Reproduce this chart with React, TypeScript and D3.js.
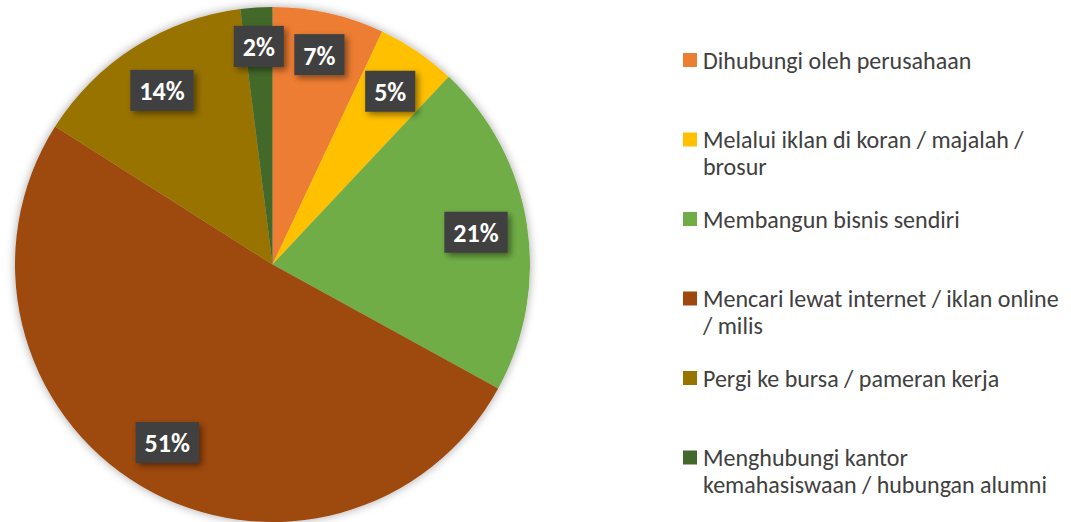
import React, { useRef, useEffect } from "react";
import * as d3 from "d3";

// Categories and shares (percent), clockwise from 12 o'clock
const categories = [
  "Dihubungi oleh perusahaan",
  "Melalui iklan di koran / majalah /\nbrosur",
  "Membangun bisnis sendiri",
  "Mencari lewat internet / iklan online\n/ milis",
  "Pergi ke bursa / pameran kerja",
  "Menghubungi kantor\nkemahasiswaan / hubungan alumni",
];
const values = [7, 5, 21, 51, 14, 2];
const colors = ["#ED7D31", "#FFC000", "#70AD47", "#9E480E", "#997300", "#43682B"];

const W = 1071;
const H = 522;

export default function App() {
  const svgRef = useRef<SVGSVGElement | null>(null);

  useEffect(() => {
    const svg = d3.select(svgRef.current);
    svg.selectAll("*").remove();

    const cx = 272.5;
    const cy = 264.5;
    const R = 257.5;
    const font = "Carlito, Lato, sans-serif";

    const defs = svg.append("defs");
    defs
      .append("filter")
      .attr("id", "pieShadow")
      .attr("x", "-20%")
      .attr("y", "-20%")
      .attr("width", "140%")
      .attr("height", "140%")
      .append("feDropShadow")
      .attr("dx", 0)
      .attr("dy", 0)
      .attr("stdDeviation", 5)
      .attr("flood-color", "#000")
      .attr("flood-opacity", 0.35);
    defs
      .append("filter")
      .attr("id", "boxShadow")
      .attr("x", "-30%")
      .attr("y", "-30%")
      .attr("width", "170%")
      .attr("height", "170%")
      .append("feDropShadow")
      .attr("dx", 3)
      .attr("dy", 3)
      .attr("stdDeviation", 3)
      .attr("flood-color", "#000")
      .attr("flood-opacity", 0.45);

    const pie = d3
      .pie<number>()
      .sort(null)
      .value((d) => d);
    const arcs = pie(values);
    const arc = d3.arc<d3.PieArcDatum<number>>().innerRadius(0).outerRadius(R);

    const g = svg.append("g").attr("transform", `translate(${cx},${cy})`);
    g.append("g")
      .attr("filter", "url(#pieShadow)")
      .selectAll("path")
      .data(arcs)
      .join("path")
      .attr("d", arc)
      .attr("fill", (_, i) => colors[i]);

    // data labels: dark boxes near the outer end of each slice
    const labels = g.append("g");
    arcs.forEach((a) => {
      const mid = (a.startAngle + a.endAngle) / 2;
      const lg = labels.append("g");
      const rect = lg.append("rect").attr("fill", "#404040").attr("filter", "url(#boxShadow)");
      const txt = lg
        .append("text")
        .attr("text-anchor", "middle")
        .attr("dominant-baseline", "central")
        .attr("fill", "#fff")
        .style("font-family", font)
        .style("font-weight", "bold")
        .style("font-size", "26px")
        .text(`${a.data}%`);
      const tw = (txt.node() as SVGTextElement).getComputedTextLength();
      const bw = tw + 18;
      const bh = 41;
      const sx = Math.sin(mid);
      const sy = -Math.cos(mid);
      const proj = (bw / 2) * Math.abs(sx) + (bh / 2) * Math.abs(sy);
      const d = R - 17 - proj;
      const x = d * sx;
      const y = d * sy;
      rect.attr("x", x - bw / 2).attr("y", y - bh / 2).attr("width", bw).attr("height", bh);
      txt.attr("x", x).attr("y", y + 1);
    });

    // legend
    const legend = svg.append("g").attr("transform", "translate(683,0)");
    categories.forEach((c, i) => {
      const y0 = 60 + i * 79.5;
      legend
        .append("rect")
        .attr("x", 0)
        .attr("y", y0 - 7)
        .attr("width", 14)
        .attr("height", 14)
        .attr("fill", colors[i]);
      const t = legend
        .append("text")
        .attr("x", 20)
        .attr("y", y0)
        .attr("fill", "#404040")
        .style("font-family", font)
        .style("font-size", "24px");
      c.split("\n").forEach((line, j) => {
        t.append("tspan")
          .attr("x", 20)
          .attr("y", y0 + j * 27)
          .attr("dominant-baseline", "central")
          .text(line);
      });
    });
  }, []);

  return (
    <svg
      ref={svgRef}
      width={W}
      height={H}
      style={{ position: "absolute", left: 0, top: 0, background: "#fff" }}
    ></svg>
  );
}
